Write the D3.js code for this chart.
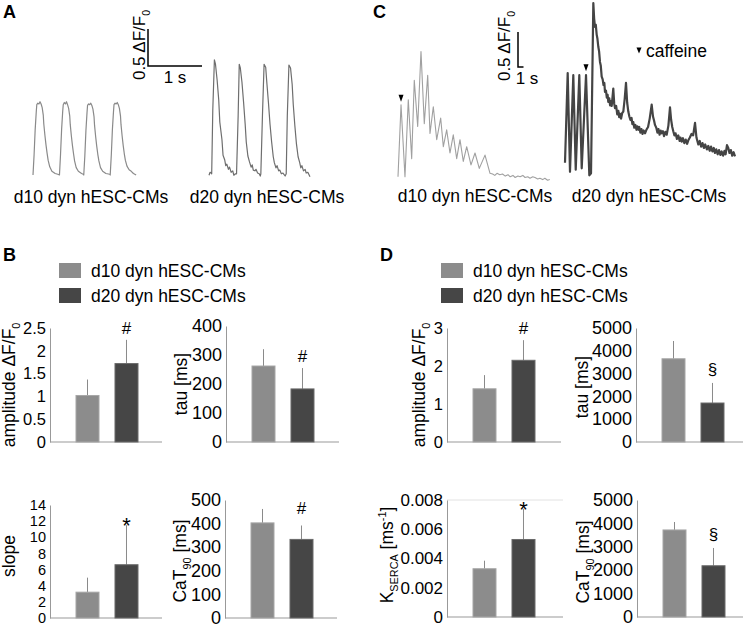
<!DOCTYPE html>
<html><head><meta charset="utf-8">
<script src="https://cdn.jsdelivr.net/npm/d3@7"></script>
<style>body{margin:0;background:#fff}svg{display:block;font-family:"Liberation Sans",Arial,sans-serif}</style>
</head><body><svg id="c" width="747" height="627"></svg>
<script>
// ---------- DATA ----------
const groups = ["d10 dyn hESC-CMs", "d20 dyn hESC-CMs"];

// Panel A traces: [time s, ΔF/F0]
const traceA_d10 = [[0,0],[.02,.27],[.04,.61],[.06,.85],[.07,.95],[.09,.97],[.11,.96],[.13,.99],[.15,.96],[.17,.91],[.19,.81],[.20,.69],[.22,.54],[.24,.41],[.26,.30],[.28,.20],[.31,.11],[.35,.05],[.41,.02],[.46,.01],
[.49,0],[.51,.28],[.53,.62],[.55,.86],[.56,.95],[.58,.98],[.60,.96],[.62,.99],[.64,.95],[.66,.90],[.68,.80],[.69,.68],[.71,.53],[.73,.40],[.75,.29],[.77,.19],[.80,.10],[.84,.05],[.90,.02],[.93,.01],
[.94,0],[.96,.26],[.98,.60],[1.00,.84],[1.01,.94],[1.03,.96],[1.05,.95],[1.07,.97],[1.09,.94],[1.11,.89],[1.13,.79],[1.14,.67],[1.16,.52],[1.18,.39],[1.20,.28],[1.22,.19],[1.25,.10],[1.29,.05],[1.35,.02],[1.42,.01],
[1.43,0],[1.45,.27],[1.47,.61],[1.49,.85],[1.50,.95],[1.52,.97],[1.54,.96],[1.56,.98],[1.58,.95],[1.60,.90],[1.62,.80],[1.63,.68],[1.65,.53],[1.67,.40],[1.69,.29],[1.71,.20],[1.74,.12],[1.78,.07],[1.82,.05],[1.86,.02],[1.91,0]];

const traceA_d20 = [[0,.01],[.02,.05],[.04,.04],[.05,.03],[.07,.89],[.10,1.57],[.12,1.51],[.15,1.30],[.18,1.03],[.20,.73],[.24,.49],[.26,.28],[.29,.22],[.31,.14],[.33,.16],[.36,.09],[.38,.12],[.41,.05],[.44,.07],[.46,.01],[.49,.03],
[.51,.03],[.54,.82],[.56,1.51],[.58,1.46],[.61,1.27],[.64,1.00],[.67,.70],[.69,.46],[.72,.27],[.75,.19],[.78,.12],[.80,.15],[.82,.08],[.85,.07],[.87,.09],[.90,.04],[.93,.03],[.95,0],
[.96,.03],[.99,.82],[1.02,1.51],[1.05,1.47],[1.07,1.27],[1.10,1.00],[1.13,.70],[1.16,.46],[1.19,.26],[1.21,.18],[1.24,.11],[1.26,.14],[1.29,.07],[1.31,.08],[1.34,.03],[1.37,.04],[1.41,0],
[1.43,.03],[1.45,.81],[1.48,1.50],[1.51,1.46],[1.54,1.24],[1.56,.97],[1.59,.68],[1.62,.43],[1.65,.26],[1.68,.18],[1.70,.11],[1.72,.14],[1.75,.07],[1.78,.09],[1.80,.04],[1.83,.05],[1.87,-.01]];

// Panel C traces: [time s, ΔF/F0]
const traceC_d10 = [[0,.06],[.55,1.09],[1.27,.06],[1.87,1.16],[2.49,.32],[2.96,1.44],[3.58,.78],[4.18,1.85],[4.78,.82],[5.4,1.51],[5.82,.68],[6.42,1.06],[7.04,.59],[7.76,.90],[8.24,.49],[8.85,.73],[9.45,.40],[10.05,.66],[10.67,.32],[11.27,.59],[11.87,.28],[12.49,.49],[13.27,.23],[14.0,.40],[14.78,.18],[15.82,.37],[16.73,.11],
[17.2,.10],[17.6,.08],[18.0,.11],[18.5,.09],[19.0,.10],[19.5,.07],[20.0,.09],[20.4,.06],[20.9,.08],[21.3,.05],[21.8,.07],[22.2,.06],[22.7,.08],[23.1,.05],[23.6,.06],[24.0,.04],[24.5,.06],[24.9,.05],[25.4,.03],[25.8,.04],[26.3,.02],[26.7,.04],[27.2,.01],[27.6,.02]];

const traceC_d20 = [[0,.19],[.49,1.47],[.91,.06],[1.51,1.44],[1.95,.09],[2.6,1.44],[3.04,.11],[3.82,1.44],[4.42,.01],[4.73,.04],[5.15,2.47],[5.3,2.25],[5.45,2.13],[5.6,2.16],[5.76,2.02],[5.9,1.96],[6.05,1.85],[6.2,1.78],[6.36,1.63],[6.5,1.58],[6.67,1.42],[6.85,1.38],[7.0,1.30],[7.15,1.33],[7.27,1.20],[7.45,1.22],[7.6,1.12],[7.75,1.16],[7.87,1.06],[8.05,1.11],[8.2,1.01],[8.35,1.07],[8.49,1.00],[8.78,1.25],[8.95,1.03],[9.09,.97],[9.3,1.0],[9.5,.88],[9.7,.93],[9.85,.84],[10.0,.89],[10.2,.82],[10.4,.90],[10.6,.92],[10.85,1.10],[11.09,1.33],[11.3,1.05],[11.51,.92],[11.7,.85],[11.9,.80],[12.1,.83],[12.25,.74],[12.42,.77],[12.6,.69],[12.8,.73],[13.0,.66],[13.15,.71],[13.33,.66],[13.5,.70],[13.7,.62],[13.9,.67],[14.1,.60],[14.3,.65],[14.55,.61],[14.8,.66],[15.1,.70],[15.4,.82],[15.76,1.02],[16.0,.85],[16.2,.79],[16.36,.73],[16.6,.69],[16.8,.62],[17.0,.67],[17.2,.59],[17.4,.65],[17.58,.61],[17.8,.64],[18.0,.57],[18.25,.63],[18.49,.59],[18.8,.72],[19.09,.98],[19.3,.80],[19.5,.70],[19.69,.64],[19.9,.58],[20.1,.61],[20.35,.53],[20.6,.58],[20.85,.50],[21.0,.55],[21.22,.49],[21.45,.54],[21.7,.47],[21.95,.52],[22.2,.46],[22.42,.51],[22.7,.55],[23.0,.60],[23.3,.58],[23.64,.76],[23.9,.55],[24.24,.45],[24.5,.50],[24.75,.42],[25.0,.47],[25.25,.40],[25.5,.45],[25.8,.38],[26.05,.43],[26.3,.36],[26.55,.42],[26.8,.35],[27.05,.40],[27.27,.33],[27.5,.38],[27.75,.31],[28.0,.37],[28.25,.30],[28.49,.35],[28.75,.29],[29.0,.36],[29.2,.31],[29.45,.44],[29.69,.40],[29.9,.33],[30.15,.37],[30.4,.29],[30.65,.34],[30.91,.28]];
const caffeineIdx = {d10: 1, d20: 7};

// Panel B bar data (mean, SD)
const ampB = [1.02, 1.72], ampBSd = [0.35, 0.52];
const tauB = [262, 183], tauBSd = [58, 72];
const slopeB = [3.2, 6.6], slopeBSd = [1.8, 4.9];
const cat90B = [403, 333], cat90BSd = [59, 59];
// Panel D bar data
const ampD = [1.40, 2.15], ampDSd = [0.36, 0.53];
const tauD = [3650, 1710], tauDSd = [780, 880];
const kSercaD = [0.0033, 0.0053], kSercaDSd = [0.00055, 0.0021];
const cat90D = [3720, 2190], cat90DSd = [340, 760];

const ticksAmpB = [0, 0.5, 1, 1.5, 2, 2.5];
const ticksTauB = [0, 100, 200, 300, 400];
const ticksSlope = [0, 2, 4, 6, 8, 10, 12, 14];
const ticksCatB = [0, 100, 200, 300, 400, 500];
const ticksAmpD = [0, 1, 2, 3];
const ticks5000 = [0, 1000, 2000, 3000, 4000, 5000];
const ticksK = [0, 0.002, 0.004, 0.006, 0.008];

// ---------- DRAW ----------
const svg = d3.select("#c");
const FONT = '"Liberation Sans",Arial,sans-serif';
const LIGHT = "#8c8c8c", DARK = "#464646";

function txt(x, y, s, size, opts = {}) {
  const t = svg.append("text").attr("x", x).attr("y", y).attr("font-size", size)
    .attr("text-anchor", opts.anchor || "start").attr("fill", "#000").text(s);
  if (opts.bold) t.attr("font-weight", "bold");
  return t;
}
function rotLabel(x, y, parts, size) {
  const t = svg.append("text").attr("transform", `translate(${x},${y}) rotate(-90)`)
    .attr("text-anchor", "middle").attr("font-size", size).attr("fill", "#000");
  let shift = 0;
  parts.forEach(p => {
    const ts = t.append("tspan").text(p.t);
    let target = p.sub ? size * 0.3 : p.sup ? -size * 0.4 : 0;
    if (p.sub || p.sup) ts.attr("font-size", size * 0.62);
    if (target !== shift) { ts.attr("dy", target - shift); shift = target; }
  });
  return t;
}

txt(3, 18, "A", 18, {bold: true});
txt(373, 18, "C", 18, {bold: true});
txt(3, 261, "B", 18, {bold: true});
txt(380, 261, "D", 18, {bold: true});

const line = (xs, ys) => d3.line().x(d => xs(d[0])).y(d => ys(d[1]));
function trace(data, xs, ys, tx, ty, color, w) {
  const g = svg.append("g").attr("transform", `translate(${tx},${ty})`);
  g.append("path").datum(data).attr("d", line(xs, ys)).attr("fill", "none")
    .attr("stroke", color).attr("stroke-width", w).attr("stroke-linejoin", "round");
  return g;
}
function scaleBar(xs, ys, tx, ty, vUnit) {
  const g = svg.append("g").attr("transform", `translate(${tx},${ty})`);
  g.append("path").attr("d", `M${xs(0)},${ys(vUnit)}V${ys(0)}H${xs(1)}`)
    .attr("fill", "none").attr("stroke", "#000").attr("stroke-width", 1.5);
}
function tri(x, yTip, w, h) {
  svg.append("path").attr("d", `M${x - w / 2},${yTip - h}L${x + w / 2},${yTip - h}L${x},${yTip}Z`).attr("fill", "#000");
}

// ---- Panel A ----
const xsA = d3.scaleLinear().domain([0, 1]).range([0, 54]);
const ysA = d3.scaleLinear().domain([0, 1]).range([0, -74]);
trace(traceA_d10, xsA, ysA, 33, 175, "#8a8a8a", 1.2);
trace(traceA_d20, xsA, ysA, 209, 176, "#6e6e6e", 1.2);
scaleBar(xsA, ysA, 148, 66, 0.5);
txt(148 + xsA(0.5), 83, "1 s", 17, {anchor: "middle"});
rotLabel(145, 45, [{t: "0.5 ΔF/F"}, {t: "0", sub: true}], 17);
txt(91, 203, groups[0], 17.5, {anchor: "middle"});
txt(267, 203, groups[1], 17.5, {anchor: "middle"});

// ---- Panel C ----
const xsC = d3.scaleLinear().domain([0, 1]).range([0, 5.5]);
const ysC = d3.scaleLinear().domain([0, 1]).range([0, -70]);
trace(traceC_d10, xsC, ysC, 398, 181, "#a0a0a0", 1.1);
trace(traceC_d20, xsC, ysC, 565, 176, "#444", 2.2);
scaleBar(xsC, ysC, 518, 67, 0.5);
txt(527, 84, "1 s", 17, {anchor: "middle"});
rotLabel(510, 46, [{t: "0.5 ΔF/F"}, {t: "0", sub: true}], 17);
{
  const p1 = traceC_d10[caffeineIdx.d10];
  tri(398 + xsC(p1[0]), 181 + ysC(p1[1]) - 3, 5, 7);
  const p2 = traceC_d20[caffeineIdx.d20];
  tri(565 + xsC(p2[0]), 176 + ysC(p2[1]) - 4, 5, 7);
}
tri(639, 53.5, 5, 6);
txt(646, 57, "caffeine", 17.5);
txt(475, 202, groups[0], 17.5, {anchor: "middle"});
txt(649, 202, groups[1], 17.5, {anchor: "middle"});

// ---- Legends ----
function legend(x, y) {
  [LIGHT, DARK].forEach((c, i) => {
    svg.append("rect").attr("x", x).attr("y", y + i * 25).attr("width", 22).attr("height", 15).attr("fill", c);
    txt(x + 32, y + i * 25 + 14, groups[i], 17.5);
  });
}
legend(59, 263);
legend(441, 263);

// ---- Bar charts ----
function barChart(o) {
  const g = svg.append("g");
  const y = d3.scaleLinear().domain([0, o.max]).range([o.y0, o.y1]);
  const x = d3.scaleBand().domain(groups).range([o.ax + 26, o.ax + 88]).paddingInner(0.41);
  if (o.grid) g.append("line").attr("x1", o.ax).attr("x2", o.xEnd).attr("y1", y(o.max)).attr("y2", y(o.max)).attr("stroke", "#e2e2e2");
  const axG = g.append("g").attr("transform", `translate(${o.ax},0)`)
    .call(d3.axisLeft(y).tickValues(o.ticks).tickSize(0).tickPadding(4).tickFormat(o.fmt || (d => String(d))));
  axG.attr("font-family", FONT).attr("font-size", o.fs);
  axG.select(".domain").attr("stroke", "#999");
  axG.selectAll("text").attr("fill", "#000");
  g.append("line").attr("x1", o.ax).attr("x2", o.xEnd).attr("y1", y(0)).attr("y2", y(0)).attr("stroke", "#999");
  groups.forEach((k, i) => {
    g.append("line").attr("x1", x(k) + x.bandwidth() / 2).attr("x2", x(k) + x.bandwidth() / 2)
      .attr("y1", y(o.vals[i])).attr("y2", y(o.vals[i] + o.sd[i])).attr("stroke", "#8a8a8a");
    g.append("rect").attr("x", x(k)).attr("y", y(o.vals[i])).attr("width", x.bandwidth())
      .attr("height", y(0) - y(o.vals[i])).attr("fill", i ? DARK : LIGHT)
      .attr("stroke", i ? "#6a6a6a" : "#a6a6a6").attr("stroke-width", 1);
  });
  const k1 = groups[1];
  txt(x(k1) + x.bandwidth() / 2, y(o.vals[1] + o.sd[1]) - o.mOff, o.mark, o.mark === "*" ? 22 : 17, {anchor: "middle"});
  rotLabel(o.lx, o.ly, o.label, 17.5);
}

barChart({ax: 50, y0: 442, y1: 328, xEnd: 162, max: 2.5, ticks: ticksAmpB, fs: 16.5, vals: ampB, sd: ampBSd, mark: "#", mOff: 6,
  lx: 15, ly: 385, label: [{t: "amplitude ΔF/F"}, {t: "0", sub: true}]});
barChart({ax: 226, y0: 442, y1: 326, xEnd: 339, max: 400, ticks: ticksTauB, fs: 18, vals: tauB, sd: tauBSd, mark: "#", mOff: 6,
  lx: 187, ly: 384, label: [{t: "tau [ms]"}]});
barChart({ax: 50, y0: 618, y1: 505, xEnd: 162, max: 14, ticks: ticksSlope, fs: 14.5, vals: slopeB, sd: slopeBSd, mark: "*", mOff: -8,
  lx: 15, ly: 556, label: [{t: "slope"}]});
barChart({ax: 225, y0: 618, y1: 500, xEnd: 337, max: 500, ticks: ticksCatB, fs: 18, vals: cat90B, sd: cat90BSd, mark: "#", mOff: 11,
  lx: 186, ly: 561, label: [{t: "CaT"}, {t: "90", sub: true}, {t: " [ms]"}]});
barChart({ax: 447, y0: 442, y1: 328, xEnd: 561, max: 3, ticks: ticksAmpD, fs: 16.5, vals: ampD, sd: ampDSd, mark: "#", mOff: 6,
  lx: 425, ly: 385, label: [{t: "amplitude ΔF/F"}, {t: "0", sub: true}]});
barChart({ax: 636, y0: 442, y1: 328, xEnd: 743, max: 5000, ticks: ticks5000, fs: 18, vals: tauD, sd: tauDSd, mark: "§", mOff: 8,
  lx: 588, ly: 387, label: [{t: "tau [ms]"}]});
barChart({ax: 447, y0: 617, y1: 500, xEnd: 563, max: 0.008, ticks: ticksK, fs: 17, vals: kSercaD, sd: kSercaDSd, mark: "*", mOff: -8, grid: true,
  lx: 393, ly: 555, label: [{t: "K"}, {t: "SERCA", sub: true}, {t: " [ms"}, {t: "-1", sup: true}, {t: "]"}]});
barChart({ax: 637, y0: 617, y1: 500, xEnd: 743, max: 5000, ticks: ticks5000, fs: 18, vals: cat90D, sd: cat90DSd, mark: "§", mOff: 8,
  lx: 589, ly: 562, label: [{t: "CaT"}, {t: "90", sub: true}, {t: " [ms]"}]});
</script></body></html>
